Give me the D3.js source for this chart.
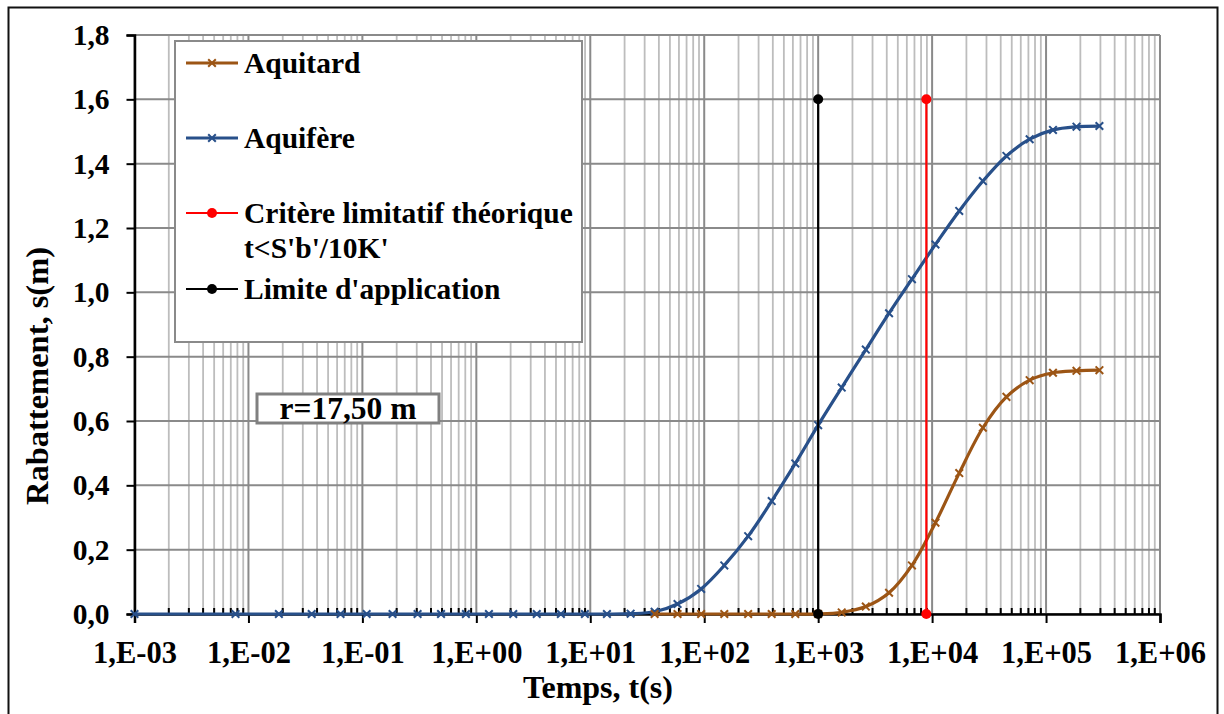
<!DOCTYPE html>
<html>
<head>
<meta charset="utf-8">
<script src="https://cdn.jsdelivr.net/npm/d3@7"></script>
<style>
  body { margin: 0; background: #fff; }
</style>
</head>
<body>
<div id="chart"></div>
<script>
// time (s) and drawdown (m)
const tAquifere = [0.001, 0.0077, 0.0185, 0.0359, 0.0643, 0.109, 0.184, 0.305, 0.49, 0.81,
  1.29, 2.11, 3.39, 5.52, 8.97, 14.0, 22.6, 36.7, 58.3, 94, 150, 243, 391, 630, 1000,
  1610, 2620, 4190, 6650, 10700, 17300, 27900, 44900, 71800, 115000, 185000, 294000];
const sAquifere = [0, 0, 0, 0, 0, 0, 0, 0, 0, 0,
  0, 0, 0, 0, 0, 0, 0.001, 0.007, 0.031, 0.078, 0.151, 0.242, 0.351, 0.468, 0.587,
  0.704, 0.822, 0.935, 1.041, 1.149, 1.253, 1.346, 1.424, 1.476, 1.505, 1.515, 1.517];

const tAquitard = [36.7, 58.3, 94, 150, 243, 391, 630, 1000, 1610, 2620, 4190, 6650,
  10700, 17300, 27900, 44900, 71800, 115000, 185000, 294000];
const sAquitard = [0, 0, 0, 0, 0, 0, 0, 0, 0.005, 0.023, 0.066, 0.151,
  0.284, 0.438, 0.579, 0.675, 0.727, 0.750, 0.756, 0.758];

const tCritere = [8900, 8900];
const sCritere = [0, 1.6];
const tLimite = [1000, 1000];
const sLimite = [0, 1.6];

const yTicks = [0, 0.2, 0.4, 0.6, 0.8, 1.0, 1.2, 1.4, 1.6, 1.8];
const xDecades = [1e-3, 1e-2, 1e-1, 1e0, 1e1, 1e2, 1e3, 1e4, 1e5, 1e6];

const blue = "#28508a";
const brown = "#9c5515";
const serif = "Liberation Serif";

const W = 1224, H = 714;
const margin = {left: 134.5, right: 64, top: 35, bottom: 100};

const svg = d3.select("#chart").append("svg")
  .attr("width", W)
  .attr("height", H);

// outer frame (bottom edge runs off the picture)
svg.append("rect")
  .attr("x", 8.5).attr("y", 7.5)
  .attr("width", 1209).attr("height", 720)
  .attr("fill", "none")
  .attr("stroke", "#111")
  .attr("stroke-width", 2);

const x = d3.scaleLog()
  .domain([1e-3, 1e6])
  .range([margin.left, W - margin.right]);
const y = d3.scaleLinear()
  .domain([0, 1.8])
  .range([H - margin.bottom, margin.top]);

// minor ticks 2..9 in each decade
const minorTicks = [];
xDecades.slice(0, -1).forEach(d => {
  for (let k = 2; k <= 9; k++) minorTicks.push(d * k);
});

const grid = svg.append("g");
grid.selectAll(".vminor")
  .data(minorTicks)
  .enter().append("line")
    .attr("x1", d => x(d)).attr("x2", d => x(d))
    .attr("y1", y(0)).attr("y2", y(1.8))
    .attr("stroke", "#bdbdbd")
    .attr("stroke-width", 1.8);
grid.selectAll(".vmajor")
  .data(xDecades)
  .enter().append("line")
    .attr("x1", d => x(d)).attr("x2", d => x(d))
    .attr("y1", y(0)).attr("y2", y(1.8))
    .attr("stroke", "#8a8a8a")
    .attr("stroke-width", 2);
grid.selectAll(".hgrid")
  .data(yTicks)
  .enter().append("line")
    .attr("x1", x(1e-3)).attr("x2", x(1e6))
    .attr("y1", d => y(d)).attr("y2", d => y(d))
    .attr("stroke", "#8a8a8a")
    .attr("stroke-width", 2);

// x axis: major ticks outside, minor ticks inside
const xAxisG = svg.append("g")
  .attr("transform", `translate(0,${y(0)})`)
  .call(d3.axisBottom(x)
    .tickValues(xDecades)
    .tickSize(9)
    .tickFormat(d => {
      const e = Math.round(Math.log10(d));
      return "1,E" + (e < 0 ? "-" : "+") + String(Math.abs(e)).padStart(2, "0");
    }));
xAxisG.attr("font-family", serif).attr("font-weight", "bold");
xAxisG.select(".domain").attr("stroke", "#000").attr("stroke-width", 2.5);
xAxisG.selectAll(".tick line").attr("stroke", "#000").attr("stroke-width", 2);
xAxisG.selectAll(".tick text")
  .attr("y", 27)
  .attr("dy", "0.71em")
  .attr("font-family", serif)
  .attr("font-weight", "bold")
  .attr("font-size", 30.5)
  .attr("fill", "#000");

svg.append("g")
  .selectAll("line")
  .data(minorTicks)
  .enter().append("line")
    .attr("x1", d => x(d)).attr("x2", d => x(d))
    .attr("y1", y(0)).attr("y2", y(0) - 6)
    .attr("stroke", "#000")
    .attr("stroke-width", 2);

// y axis
const yAxisG = svg.append("g")
  .attr("transform", `translate(${x(1e-3)},0)`)
  .call(d3.axisLeft(y)
    .tickValues(yTicks)
    .tickSize(8)
    .tickFormat(d => d.toFixed(1).replace(".", ",")));
yAxisG.attr("font-family", serif).attr("font-weight", "bold");
yAxisG.select(".domain").attr("stroke", "#000").attr("stroke-width", 2.5);
yAxisG.selectAll(".tick line").attr("stroke", "#000").attr("stroke-width", 2);
yAxisG.selectAll(".tick text")
  .attr("x", -25)
  .attr("font-family", serif)
  .attr("font-weight", "bold")
  .attr("font-size", 29.5)
  .attr("fill", "#000");

// axis titles
svg.append("text")
  .attr("x", 598).attr("y", 698)
  .attr("text-anchor", "middle")
  .attr("font-family", serif)
  .attr("font-weight", "bold")
  .attr("font-size", 32)
  .text("Temps, t(s)");
svg.append("text")
  .attr("transform", "translate(48,376) rotate(-90)")
  .attr("text-anchor", "middle")
  .attr("font-family", serif)
  .attr("font-weight", "bold")
  .attr("font-size", 32.5)
  .text("Rabattement, s(m)");

// series
const line = d3.line()
  .x(d => x(d[0]))
  .y(d => y(d[1]))
  .curve(d3.curveCatmullRom.alpha(0.5));

const aquifere = d3.zip(tAquifere, sAquifere);
const aquitard = d3.zip(tAquitard, sAquitard);
const cross = 3.8;

function drawSeries(data, color) {
  const g = svg.append("g");
  g.append("path")
    .datum(data)
    .attr("d", line)
    .attr("fill", "none")
    .attr("stroke", color)
    .attr("stroke-width", 3.2);
  g.selectAll("path.mk")
    .data(data)
    .enter().append("path")
      .attr("class", "mk")
      .attr("d", d => {
        const cx = x(d[0]), cy = y(d[1]);
        return `M${cx - cross},${cy - cross}L${cx + cross},${cy + cross}M${cx - cross},${cy + cross}L${cx + cross},${cy - cross}`;
      })
      .attr("stroke", color)
      .attr("stroke-width", 2);
}
drawSeries(aquifere, blue);
drawSeries(aquitard, brown);

function drawVertical(ts, ss, color) {
  const data = d3.zip(ts, ss);
  const g = svg.append("g");
  g.append("path")
    .datum(data)
    .attr("d", d3.line().x(d => x(d[0])).y(d => y(d[1])))
    .attr("stroke", color)
    .attr("stroke-width", 2.2)
    .attr("fill", "none");
  g.selectAll("circle")
    .data(data)
    .enter().append("circle")
      .attr("cx", d => x(d[0]))
      .attr("cy", d => y(d[1]))
      .attr("r", 5)
      .attr("fill", color);
}
drawVertical(tLimite, sLimite, "#000");
drawVertical(tCritere, sCritere, "#ff0000");

// legend
const lg = svg.append("g");
lg.append("rect")
  .attr("x", 175).attr("y", 41)
  .attr("width", 407).attr("height", 301)
  .attr("fill", "#fff")
  .attr("stroke", "#8a8a8a")
  .attr("stroke-width", 2);

const legendItems = [
  {label: ["Aquitard"], color: brown, mark: "x", y: 63, w: 3},
  {label: ["Aquifère"], color: blue, mark: "x", y: 138, w: 3},
  {label: ["Critère limitatif théorique", "t<S'b'/10K'"], color: "#ff0000", mark: "o", y: 213, w: 2},
  {label: ["Limite d'application"], color: "#000", mark: "o", y: 289, w: 2}
];
legendItems.forEach(it => {
  lg.append("line")
    .attr("x1", 186).attr("x2", 238)
    .attr("y1", it.y).attr("y2", it.y)
    .attr("stroke", it.color)
    .attr("stroke-width", it.w);
  if (it.mark === "x") {
    lg.append("path")
      .attr("d", `M${212 - cross},${it.y - cross}L${212 + cross},${it.y + cross}M${212 - cross},${it.y + cross}L${212 + cross},${it.y - cross}`)
      .attr("stroke", it.color)
      .attr("stroke-width", 2);
  } else {
    lg.append("circle")
      .attr("cx", 212).attr("cy", it.y).attr("r", 5)
      .attr("fill", it.color);
  }
  it.label.forEach((t, i) => {
    lg.append("text")
      .attr("x", 244)
      .attr("y", it.y + 10 + i * 35)
      .attr("font-family", serif)
      .attr("font-weight", "bold")
      .attr("font-size", 29.5)
      .text(t);
  });
});

// radius annotation
svg.append("rect")
  .attr("x", 257).attr("y", 394)
  .attr("width", 182).attr("height", 29)
  .attr("fill", "#fff")
  .attr("stroke", "#808080")
  .attr("stroke-width", 3);
svg.append("text")
  .attr("x", 348).attr("y", 419)
  .attr("text-anchor", "middle")
  .attr("font-family", serif)
  .attr("font-weight", "bold")
  .attr("font-size", 31.5)
  .text("r=17,50 m");
</script>
</body>
</html>
